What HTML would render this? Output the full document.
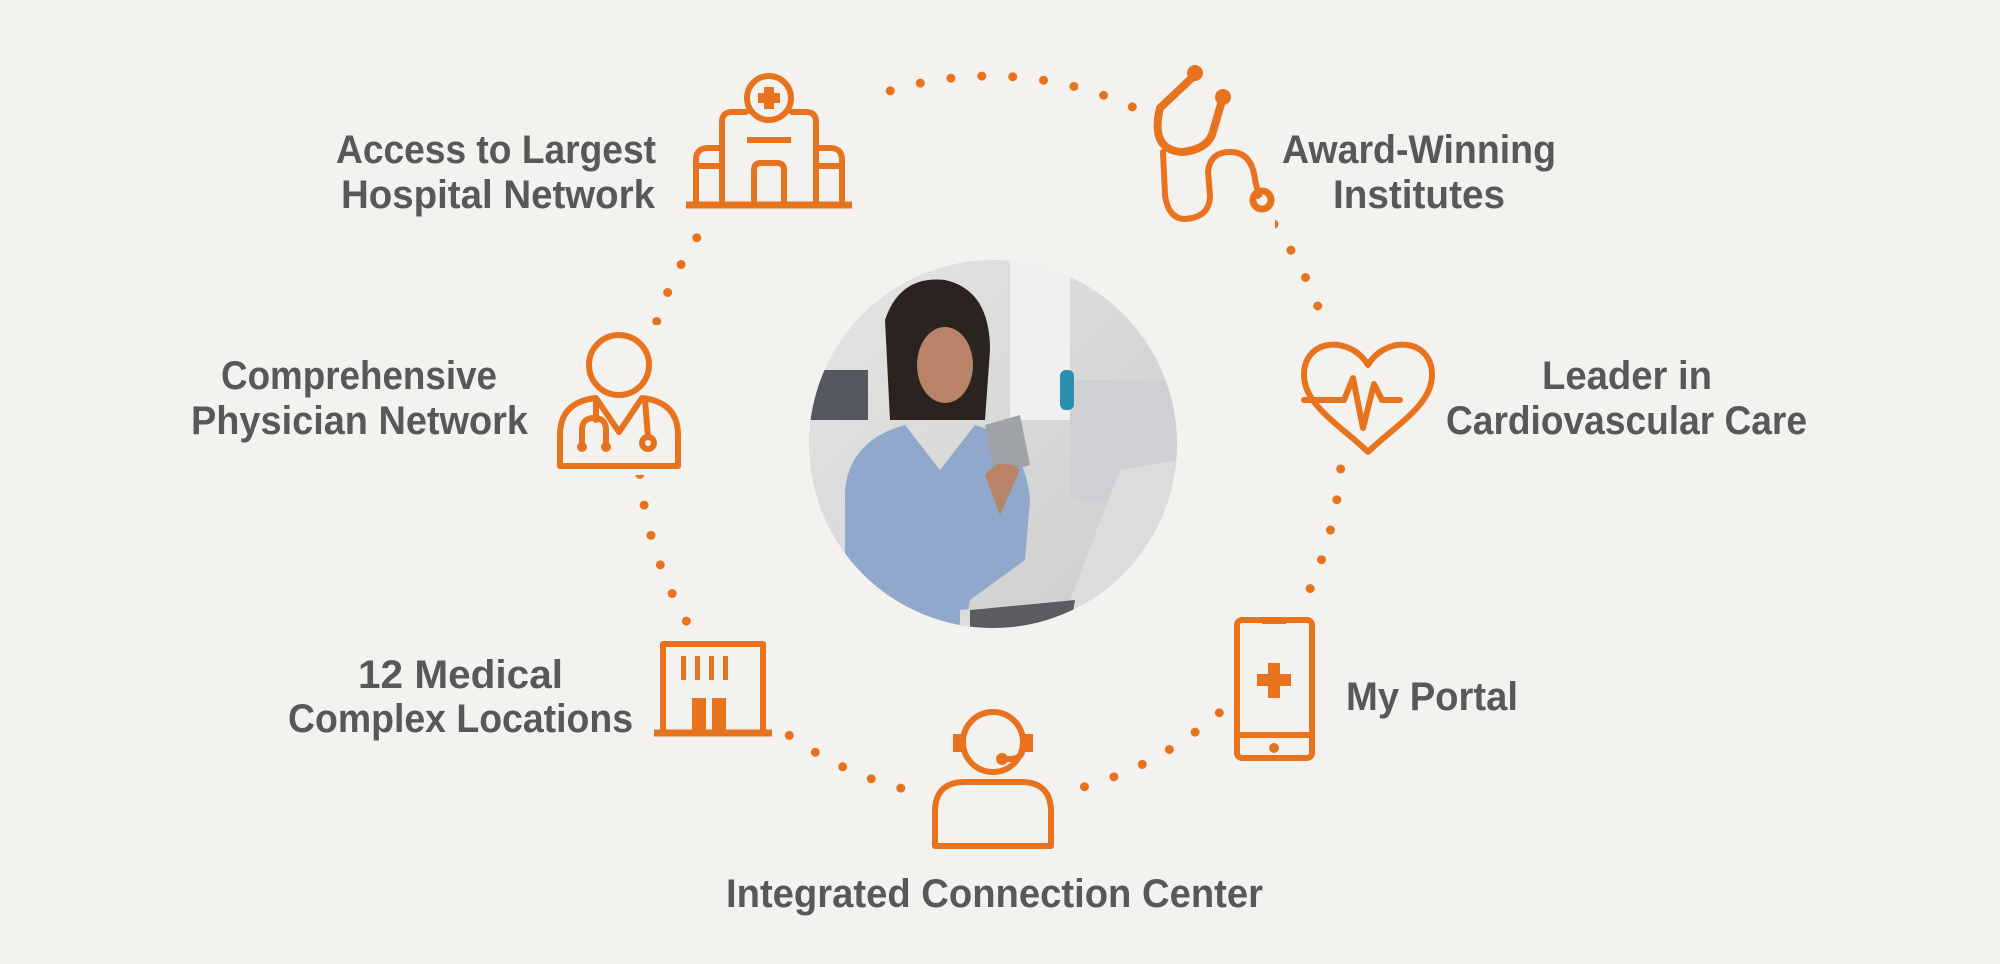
<!DOCTYPE html>
<html><head><meta charset="utf-8"><style>
html,body{margin:0;padding:0;background:#f3f2ef;}
svg{display:block}
text{font-family:"Liberation Sans",sans-serif;font-weight:bold;fill:#58585a;font-size:40px}
</style></head><body>
<svg width="2000" height="964" viewBox="0 0 2000 964" xmlns="http://www.w3.org/2000/svg">
<rect width="2000" height="964" fill="#f3f2ef"/>
<defs><clipPath id="cp"><circle cx="993" cy="444" r="184"/></clipPath>
<linearGradient id="bgp" x1="0" y1="0" x2="1" y2="1"><stop offset="0" stop-color="#e6e6e4"/><stop offset="1" stop-color="#c9cacc"/></linearGradient></defs>
<!-- dotted ring -->
<ellipse cx="990" cy="438" rx="352" ry="362" fill="none" stroke="#e8731e" stroke-width="9" stroke-linecap="round" stroke-dasharray="0 31"/>
<!-- masks behind icons -->
<g fill="#f3f2ef">
<rect x="680" y="68" width="186" height="150"/>
<rect x="1145" y="60" width="130" height="170"/>
<rect x="550" y="325" width="137" height="150"/>
<rect x="1295" y="330" width="147" height="130"/>
<rect x="646" y="634" width="134" height="108"/>
<rect x="1226" y="610" width="95" height="158"/>
<rect x="925" y="705" width="136" height="148"/>
</g>
<!-- photo -->
<g clip-path="url(#cp)">
<rect x="800" y="250" width="400" height="400" fill="url(#bgp)"/>
<rect x="1010" y="260" width="60" height="160" fill="#f0f0ef"/>
<rect x="1070" y="380" width="110" height="120" fill="#cfd0d3"/>
<rect x="808" y="370" width="60" height="50" fill="#55585e"/>
<rect x="1060" y="370" width="14" height="40" rx="6" fill="#2a8fb0"/>
<path d="M885,320 Q900,275 945,280 Q990,290 990,350 L985,420 L890,420 Z" fill="#2a2320"/>
<ellipse cx="945" cy="365" rx="28" ry="38" fill="#b88366"/>
<path d="M845,650 L845,490 Q850,440 905,425 L940,470 L975,425 Q1025,440 1030,500 L1025,560 L970,600 L960,650 Z" fill="#8fa8cc"/>
<path d="M985,425 L1020,415 L1030,465 L995,475 Z" fill="#9fa2a7"/>
<path d="M985,475 Q1000,455 1020,470 L1000,515 Z" fill="#b88366"/>
<path d="M960,610 L1070,600 L1120,470 L1180,460 L1180,650 L960,650 Z" fill="#dcdcdd"/>
<path d="M970,610 L1075,600 L1070,630 L970,640 Z" fill="#5a5c60"/>
</g>
<!-- icons -->
<g fill="none" stroke="#e8731e" stroke-width="6" stroke-linejoin="round" stroke-linecap="round">
<!-- hospital -->
<line x1="686" y1="205" x2="852" y2="205" stroke-width="7" stroke-linecap="butt"/>
<path d="M722,205 L722,122 Q722,112 732,112 L746,112 M792,112 L806,112 Q816,112 816,122 L816,205"/>
<circle cx="769" cy="98" r="22" fill="#f3f2ef"/>
<line x1="747" y1="140" x2="791" y2="140" stroke-linecap="butt"/>
<path d="M754,205 L754,170 Q754,163 761,163 L777,163 Q784,163 784,170 L784,205"/>
<path d="M722,148 L708,148 Q696,148 696,160 L696,205 M696,166 L722,166"/>
<path d="M816,148 L830,148 Q842,148 842,160 L842,205 M842,166 L816,166"/>
<!-- stethoscope -->
<path d="M1195,75 L1160,108 Q1150,150 1182,152 Q1205,150 1212,135 L1223,97" stroke-width="8"/>
<path d="M1163,152 L1165,195 Q1168,218 1184,219 Q1210,218 1210,195 L1208,172 Q1210,152 1230,152 Q1252,152 1255,180 L1259,196"/>
<circle cx="1262" cy="200" r="9" stroke-width="7"/>
<!-- doctor -->
<circle cx="619" cy="365" r="30"/>
<path d="M560,466 L560,435 Q560,402 596,398 L619,432 L642,398 Q678,402 678,435 L678,466 Z"/>
<path d="M596,400 L596,420 M582,447 L582,430 Q582,418 594,418 Q606,418 606,430 L606,447"/>
<path d="M645,400 L648,437"/>
<circle cx="648" cy="443" r="6"/>
<!-- heart -->
<path d="M1368,365 C1350,335 1304,338 1304,375 C1304,405 1340,425 1368,452 C1396,425 1432,405 1432,375 C1432,338 1386,335 1368,365 Z"/>
<path d="M1304,400 L1344,400 L1353,378 L1363,428 L1374,384 L1382,400 L1400,400"/>
<!-- building -->
<rect x="663" y="644" width="100" height="89" stroke-linecap="butt"/>
<line x1="654" y1="733" x2="772" y2="733" stroke-width="7" stroke-linecap="butt"/>
<!-- phone -->
<rect x="1237" y="620" width="75" height="138" rx="5"/>
<line x1="1237" y1="735" x2="1312" y2="735"/>
<!-- headset -->
<circle cx="993" cy="742" r="30"/>
<path d="M935,846 L935,812 Q935,782 965,782 L1021,782 Q1051,782 1051,812 L1051,846 Z"/>
<path d="M1022,752 Q1020,760 1005,759"/>
</g>
<g fill="#e8731e">
<circle cx="1195" cy="73" r="8"/><circle cx="1223" cy="97" r="8"/>
<circle cx="582" cy="447" r="5"/><circle cx="606" cy="447" r="5"/>
<rect x="758" y="87" width="22" height="22" fill="#e8731e"/>
<g fill="#f3f2ef"><rect x="758" y="87" width="6" height="6"/><rect x="774" y="87" width="6" height="6"/><rect x="758" y="103" width="6" height="6"/><rect x="774" y="103" width="6" height="6"/></g>
<rect x="681" y="656" width="5" height="24"/><rect x="695" y="656" width="5" height="24"/><rect x="709" y="656" width="5" height="24"/><rect x="723" y="656" width="5" height="24"/>
<rect x="692" y="698" width="14" height="35"/><rect x="712" y="698" width="14" height="35"/>
<rect x="1262" y="618" width="24" height="6"/>
<rect x="1268" y="663" width="12" height="35"/><rect x="1257" y="674" width="34" height="12"/>
<circle cx="1274" cy="748" r="5"/>
<rect x="953" y="734" width="13" height="18"/><rect x="1020" y="734" width="13" height="18"/>
<circle cx="1002" cy="759" r="6"/>
</g>
<circle cx="1262" cy="200" r="3" fill="#f3f2ef"/>
<!-- labels -->
<text x="336" y="163" textLength="320" lengthAdjust="spacingAndGlyphs">Access to Largest</text>
<text x="341" y="208" textLength="314" lengthAdjust="spacingAndGlyphs">Hospital Network</text>
<text x="1282" y="163" textLength="274" lengthAdjust="spacingAndGlyphs">Award-Winning</text>
<text x="1333" y="208" textLength="172" lengthAdjust="spacingAndGlyphs">Institutes</text>
<text x="221" y="389" textLength="276" lengthAdjust="spacingAndGlyphs">Comprehensive</text>
<text x="191" y="434" textLength="337" lengthAdjust="spacingAndGlyphs">Physician Network</text>
<text x="1542" y="389" textLength="170" lengthAdjust="spacingAndGlyphs">Leader in</text>
<text x="1446" y="434" textLength="361" lengthAdjust="spacingAndGlyphs">Cardiovascular Care</text>
<text x="358" y="688" textLength="205" lengthAdjust="spacingAndGlyphs">12 Medical</text>
<text x="288" y="732" textLength="345" lengthAdjust="spacingAndGlyphs">Complex Locations</text>
<text x="1346" y="710" textLength="172" lengthAdjust="spacingAndGlyphs">My Portal</text>
<text x="726" y="907" textLength="537" lengthAdjust="spacingAndGlyphs">Integrated Connection Center</text>
</svg>
</body></html>
